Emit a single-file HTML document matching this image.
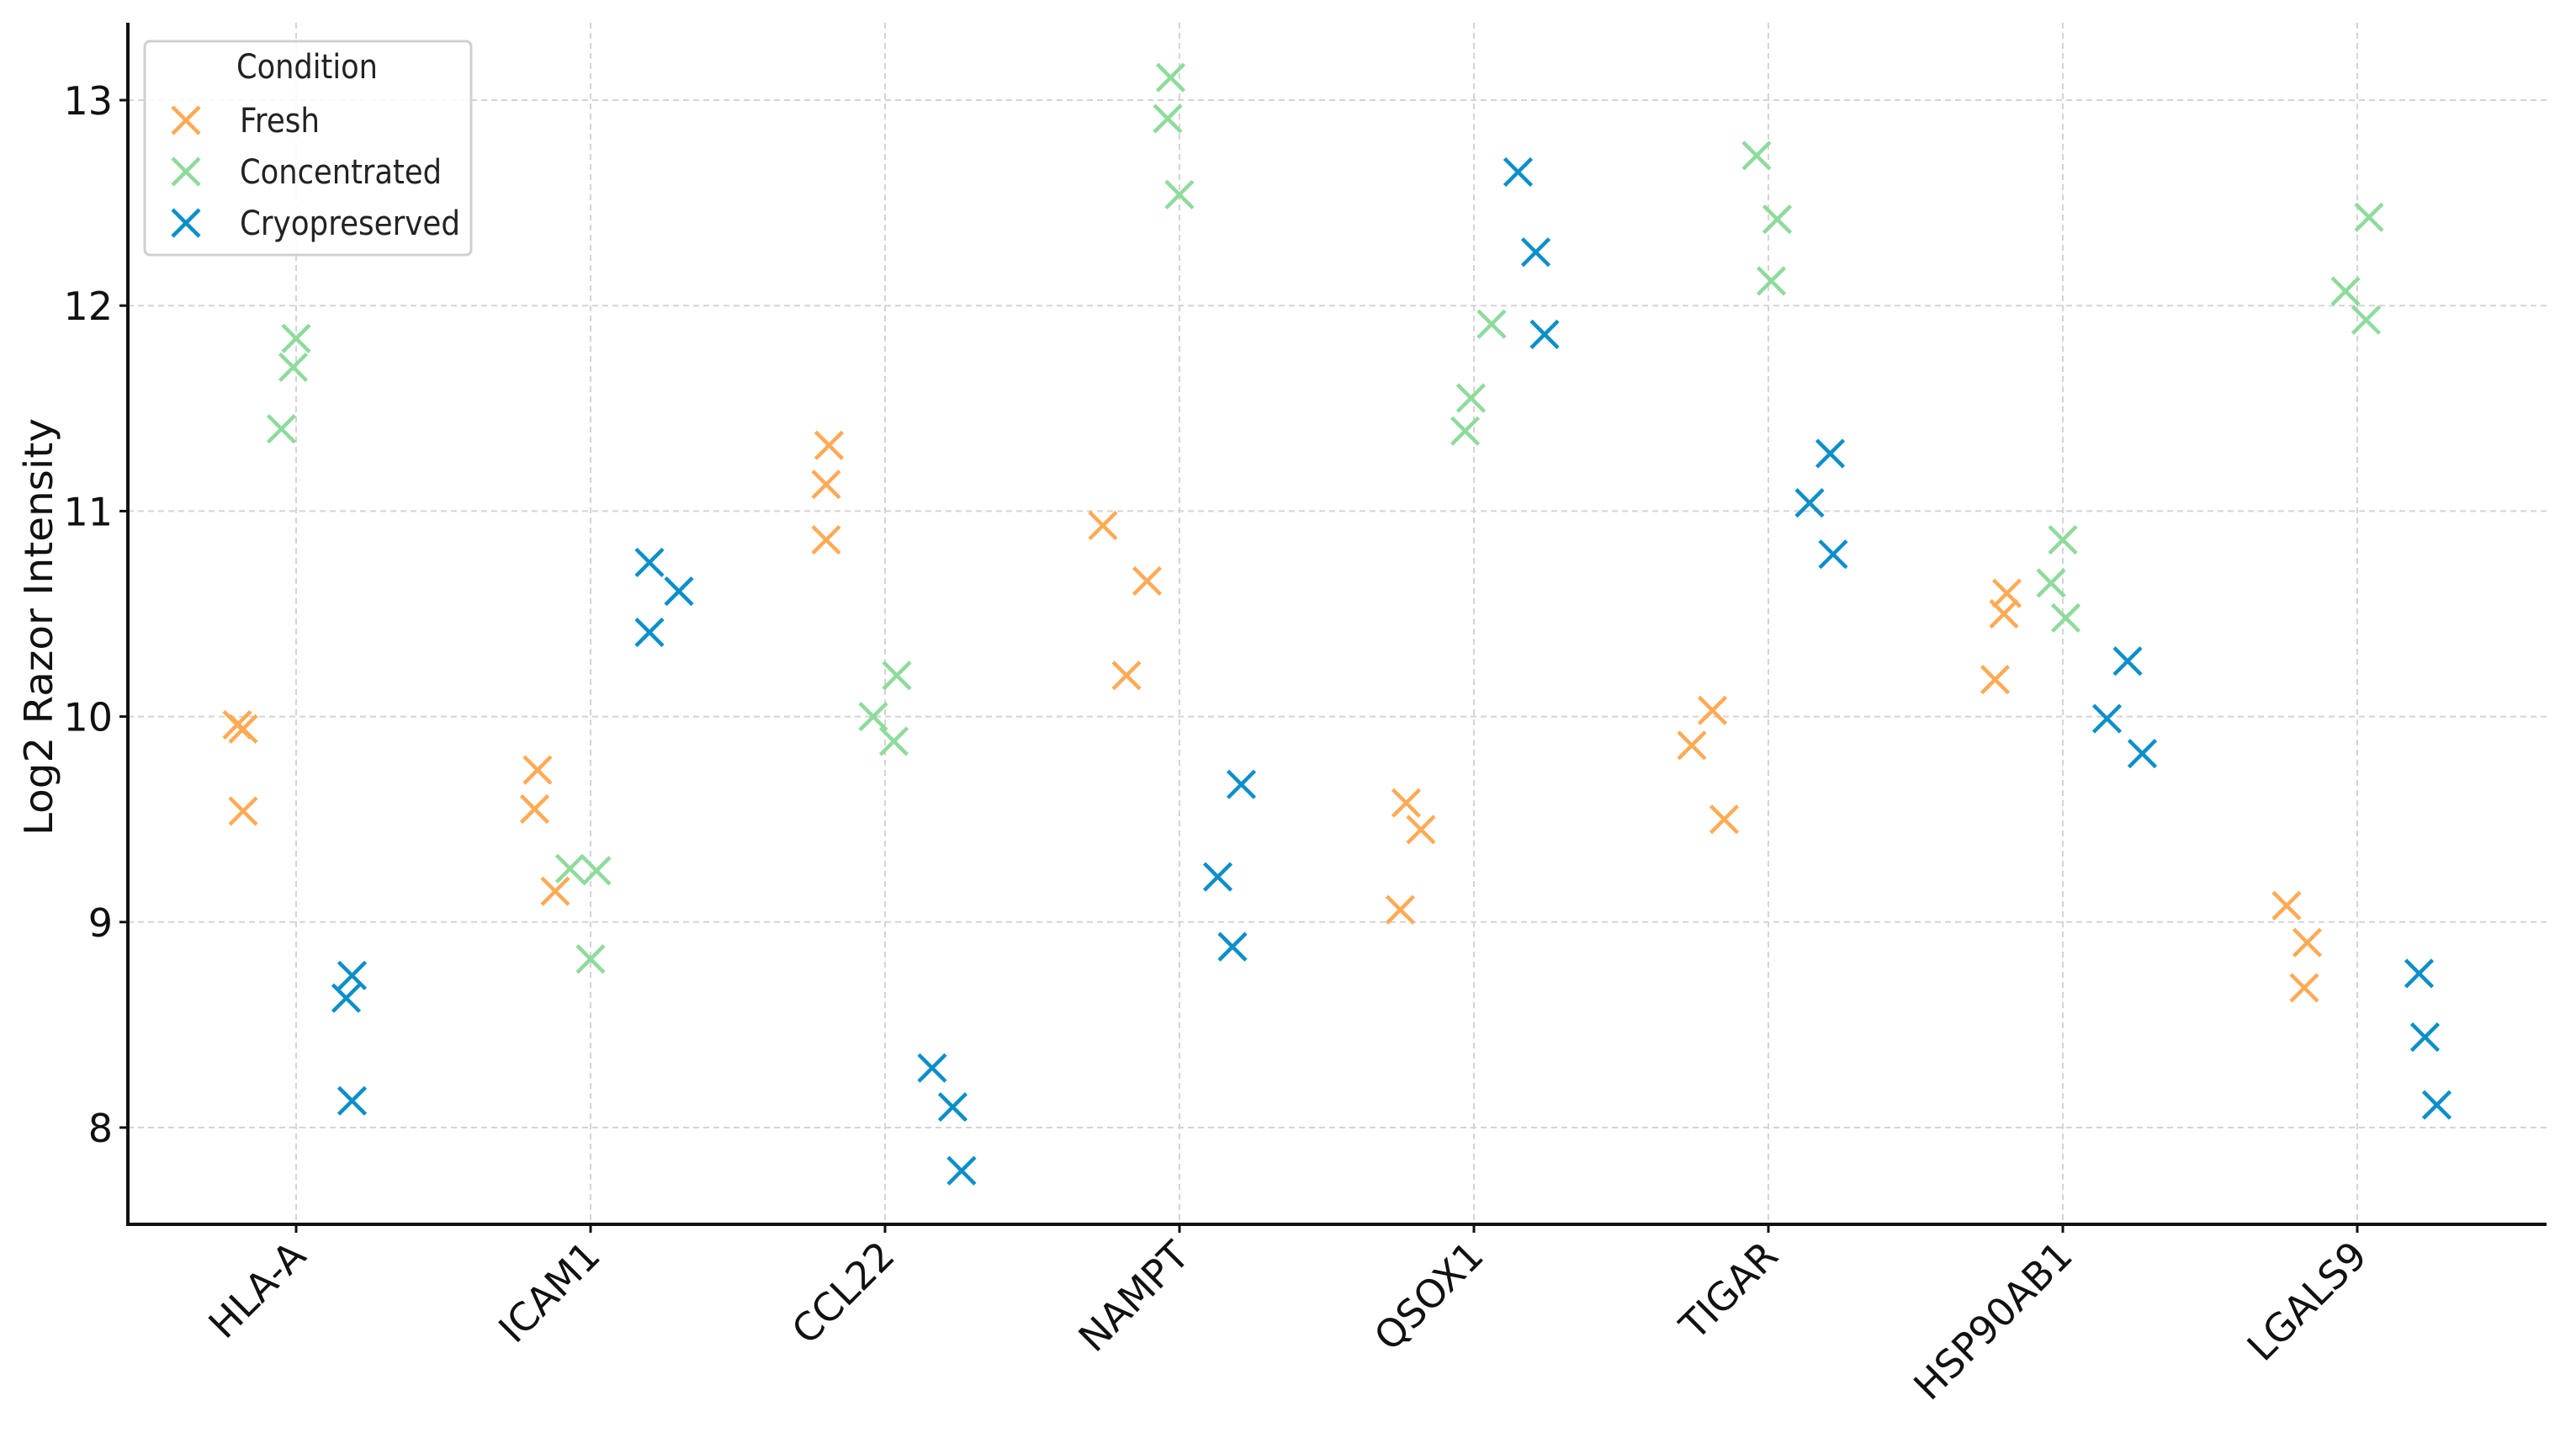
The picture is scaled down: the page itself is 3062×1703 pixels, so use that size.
<!DOCTYPE html>
<html><head><meta charset="utf-8"><style>
html,body{margin:0;padding:0;background:#fff;}
svg{display:block;font-family:"DejaVu Sans","Liberation Sans",sans-serif;}
</style></head><body>
<svg id="chart" width="3062" height="1703" viewBox="0 0 3062 1703" xmlns="http://www.w3.org/2000/svg">
<g id="grid"></g>
<g id="marks"></g>
<g id="axes"></g>
<text x="62" y="745" font-size="46" text-anchor="middle" textLength="496" lengthAdjust="spacingAndGlyphs" transform="rotate(-90 62 745)" fill="#111">Log2 Razor Intensity</text>
<g>
<rect x="172" y="49" width="388" height="254" rx="6" fill="#fff" fill-opacity="0.85" stroke="#d0d0d0" stroke-width="3"/>
<text x="365" y="93" font-size="40" text-anchor="middle" textLength="168" lengthAdjust="spacingAndGlyphs" fill="#222">Condition</text>
<g id="legend-items"></g>
</g>
</svg>
<script>
const categories=["HLA-A","ICAM1","CCL22","NAMPT","QSOX1","TIGAR","HSP90AB1","LGALS9"];
const freshValues=[[9.96,9.94,9.54],[9.74,9.55,9.15],[11.32,11.13,10.86],[10.93,10.66,10.2],[9.58,9.45,9.06],[9.86,10.03,9.5],[10.6,10.5,10.18],[9.08,8.9,8.68]];
const freshJitter=[[-0.2,-0.18,-0.18],[-0.18,-0.19,-0.12],[-0.19,-0.2,-0.2],[-0.26,-0.11,-0.18],[-0.23,-0.18,-0.25],[-0.26,-0.19,-0.15],[-0.19,-0.2,-0.23],[-0.24,-0.17,-0.18]];
const concValues=[[11.4,11.7,11.84],[9.26,9.25,8.82],[10.0,10.2,9.88],[13.11,12.91,12.54],[11.91,11.55,11.39],[12.73,12.42,12.12],[10.86,10.65,10.48],[12.07,12.43,11.93]];
const concJitter=[[-0.05,-0.01,0.0],[-0.07,0.02,0.0],[-0.04,0.04,0.03],[-0.03,-0.04,0.0],[0.06,-0.01,-0.03],[-0.04,0.03,0.01],[0.0,-0.04,0.01],[-0.04,0.04,0.03]];
const cryoValues=[[8.74,8.63,8.13],[10.75,10.61,10.41],[8.29,8.1,7.79],[9.67,9.22,8.88],[12.65,12.26,11.86],[11.28,11.04,10.79],[10.27,9.99,9.82],[8.75,8.44,8.11]];
const cryoJitter=[[0.19,0.17,0.19],[0.2,0.3,0.2],[0.16,0.23,0.26],[0.21,0.13,0.18],[0.15,0.21,0.24],[0.21,0.14,0.22],[0.22,0.15,0.27],[0.21,0.23,0.27]];
const yTicks=[8,9,10,11,12,13];
const seriesNames=["Fresh","Concentrated","Cryopreserved"];
const seriesColors=["#FFAA55","#8EDB9C","#0A8FC9"];

const NS="http://www.w3.org/2000/svg";
const L=152,R=3027,T=27,B=1455;
function xs(i,j){return 352+350*(i+j);}
function ys(v){return 1340-(v-8)*244.2;}
function mk(tag,attrs,parent){const e=document.createElementNS(NS,tag);for(const k in attrs)e.setAttribute(k,attrs[k]);parent.appendChild(e);return e;}
const grid=document.getElementById('grid'),marks=document.getElementById('marks'),axes=document.getElementById('axes');
yTicks.forEach(t=>{
  const g=mk('line',{x1:L,x2:R,y1:ys(t),y2:ys(t),stroke:'#d4d4d4','stroke-width':2,'stroke-dasharray':'7 5'},grid);
  
  
  const tk=mk('line',{x1:L-10,x2:L,y1:ys(t),y2:ys(t),stroke:'#111','stroke-width':3},axes);
  
  
  const tx=mk('text',{x:L-18,y:ys(t)+17,'font-size':46,'text-anchor':'end',fill:'#111'},axes);
  tx.textContent=t;
  
  
});
categories.forEach((c,i)=>{
  const x=xs(i,0);
  const g=mk('line',{x1:x,x2:x,y1:T,y2:B,stroke:'#d4d4d4','stroke-width':2,'stroke-dasharray':'7 5'},grid);
  
  
  const tk=mk('line',{x1:x,x2:x,y1:B,y2:B+10,stroke:'#111','stroke-width':3},axes);
  
  
  const ax=x+14, ay=B+40;
  const tx=mk('text',{x:ax,y:ay,'font-size':46,'text-anchor':'end',fill:'#111',transform:`rotate(-45 ${ax} ${ay})`},axes);
  tx.textContent=c;
  
  
});
const l1=mk('line',{x1:L,x2:L,y1:T,y2:B+2,stroke:'#111','stroke-width':4},axes);


const l2=mk('line',{x1:L-2,x2:R,y1:B,y2:B,stroke:'#111','stroke-width':4},axes);


function cross(cx,cy,col,parent){
  const s=16;
  return mk('path',{d:`M${cx-s} ${cy-s}L${cx+s} ${cy+s}M${cx-s} ${cy+s}L${cx+s} ${cy-s}`,stroke:col,'stroke-width':4.5,fill:'none'},parent);
}
const allVals=[freshValues,concValues,cryoValues],allJit=[freshJitter,concJitter,cryoJitter];
allVals.forEach((vals,s)=>{
  vals.forEach((arr,i)=>{
    arr.forEach((v,k)=>{
      const p=cross(xs(i,allJit[s][i][k]),ys(v),seriesColors[s],marks);
      
      
    });
  });
});
const li=document.getElementById('legend-items');
const legendLens=[95,240,262];
seriesNames.forEach((n,s)=>{
  const y=143+61*s;
  const p=cross(221,y,seriesColors[s],li);
  
  
  const t=mk('text',{x:285,y:y+14,'font-size':40,fill:'#222',textLength:legendLens[s],lengthAdjust:'spacingAndGlyphs'},li);
  t.textContent=n;
  
  
});
</script>
</body></html>
